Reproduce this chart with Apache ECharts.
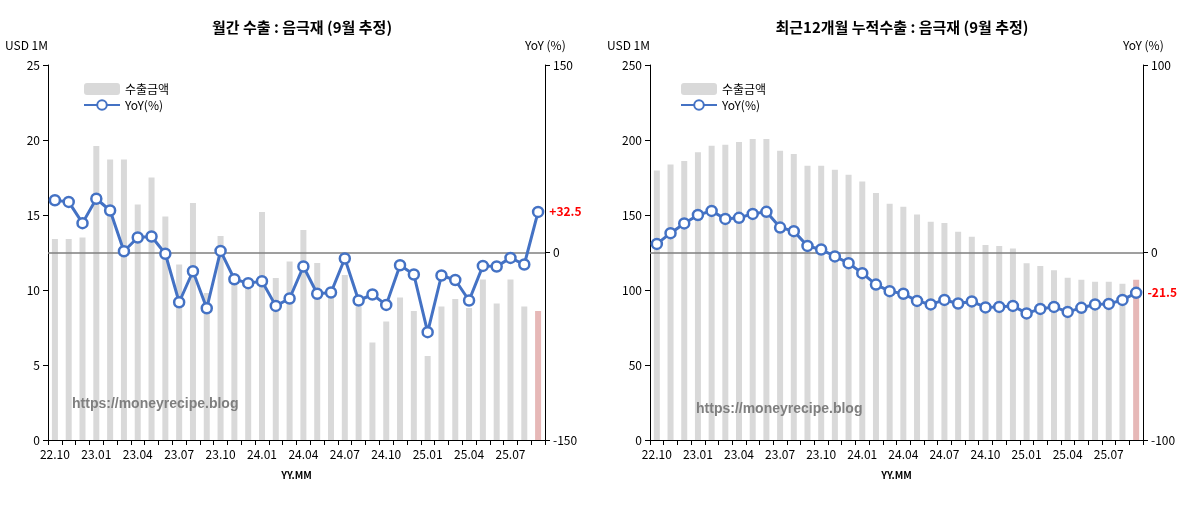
<!DOCTYPE html>
<html><head><meta charset="utf-8">
<script src="https://cdn.jsdelivr.net/npm/echarts@6/dist/echarts.min.js"></script>
<style>body{margin:0;background:#fff}#c{width:1200px;height:510px}</style></head>
<body><div id="c"></div>
<script>
const categories=['22.10','22.11','22.12','23.01','23.02','23.03','23.04','23.05','23.06','23.07','23.08','23.09','23.10','23.11','23.12','24.01','24.02','24.03','24.04','24.05','24.06','24.07','24.08','24.09','24.10','24.11','24.12','25.01','25.02','25.03','25.04','25.05','25.06','25.07','25.08','25.09'];
const monthlyExport=[13.4,13.4,13.5,19.6,18.7,18.7,15.7,17.5,14.9,11.7,15.8,9.8,13.6,10.5,10.3,15.2,10.8,11.9,14.0,11.8,9.8,11.0,8.9,6.5,7.9,9.5,8.6,5.6,8.9,9.4,8.8,10.7,9.1,10.7,8.9,8.6];
const monthlyYoY=[41.8,40.5,23.5,43,33.6,1,12,12.8,-1,-39.8,-15,-44.6,1.3,-21.4,-24.5,-23,-42.7,-36.8,-11.2,-33,-32,-4.8,-38.4,-33.6,-41.9,-10.2,-17.6,-63.7,-18.4,-22,-38.4,-10.7,-11.2,-4.3,-9.6,32.5];
const rollingExport=[179.6,183.6,186,191.8,196.2,196.9,198.7,200.7,200.7,192.9,190.7,182.9,182.9,180.2,176.9,172.4,164.7,157.5,155.5,150.4,145.5,144.7,138.9,135.5,130,129.3,127.6,117.8,116,113.1,108.2,106.9,105.5,105.5,104.2,106.9];
const rollingYoY=[4.6,10.3,15.5,20,22.2,17.9,18.5,20.6,21.7,13.3,11.4,3.5,1.6,-2.1,-5.7,-11,-17.1,-20.6,-22,-25.8,-27.7,-25.3,-27.2,-26.1,-29.3,-29,-28.5,-32.5,-30.1,-29,-31.7,-29.5,-27.7,-27.4,-25.3,-21.5];

const F='"Noto Sans CJK KR","Noto Sans",sans-serif';
const last=categories.length-1;
function bars(v){return v.map((x,i)=>i===last?{value:x,itemStyle:{color:'#e6b8b7'}}:x);}
function lineData(v,lab){return v.map((x,i)=>i===last?{value:x,label:{show:true,position:'right',formatter:lab,color:'#ff0000',fontWeight:'bold',fontSize:12,offset:[-4,-14],fontFamily:F}}:x);}
function xAx(g){return {type:'category',gridIndex:g,data:categories,boundaryGap:true,
 axisLine:{lineStyle:{color:'#000'}},axisTick:{show:true,interval:0,lineStyle:{color:'#000'}},
 axisLabel:{interval:(i)=>i%3===0,color:'#000',fontSize:12,fontFamily:F,margin:8},
 name:'YY.MM',nameLocation:'middle',nameGap:30,nameTextStyle:{fontWeight:'bold',fontSize:10,color:'#000',fontFamily:F}};}
function yAx(g,max,iv,pos,name,min){return {type:'value',gridIndex:g,min:min,max:max,interval:iv,position:pos,
 splitLine:{show:false},axisLine:{show:true,lineStyle:{color:'#000'}},axisTick:{show:true,lineStyle:{color:'#000'}},
 axisLabel:{color:'#000',fontSize:12,fontFamily:F},name:name,nameGap:14,
 nameTextStyle:{color:'#000',fontSize:12,fontFamily:F,align:pos==='left'?'right':'left',padding:pos==='left'?[0,0,0,0]:[0,0,0,-20]}};}
function barSeries(x,y,d){return {type:'bar',name:'수출금액',xAxisIndex:x,yAxisIndex:y,data:bars(d),barWidth:6,itemStyle:{color:'#d9d9d9'},z:1};}
function lineSeries(x,y,d,lab){return {type:'line',name:'YoY(%)',xAxisIndex:x,yAxisIndex:y,data:lineData(d,lab),
 symbol:'circle',symbolSize:10,showSymbol:true,showAllSymbol:true,itemStyle:{color:'#fff',borderColor:'#4472c4',borderWidth:2.5},lineStyle:{color:'#4472c4',width:3},z:3,
 labelLayout:{hideOverlap:false},
 markLine:{silent:true,symbol:'none',label:{show:false},lineStyle:{color:'#7f7f7f',type:'solid',width:1.5},data:[{yAxis:0}],z:2}};}
const chart=echarts.init(document.getElementById('c'));
chart.setOption({
 animation:false,
 title:[{text:'월간 수출 : 음극재 (9월 추정)',left:297,top:15,textAlign:'center',textStyle:{fontSize:15,fontWeight:'bold',color:'#000',fontFamily:F}},
  {text:'최근12개월 누적수출 : 음극재 (9월 추정)',left:897,top:15,textAlign:'center',textStyle:{fontSize:15,fontWeight:'bold',color:'#000',fontFamily:F}}],
 legend:[{data:['수출금액','YoY(%)'],left:78,top:78,orient:'vertical',itemGap:4,textStyle:{fontSize:12,color:'#000',fontFamily:F},itemWidth:36,itemHeight:12},
  {data:['수출금액','YoY(%)'],left:675,top:78,orient:'vertical',itemGap:4,textStyle:{fontSize:12,color:'#000',fontFamily:F},itemWidth:36,itemHeight:12}],
 graphic:[{type:'text',left:72,top:397,z:10,style:{text:'https://moneyrecipe.blog',fill:'#7f7f7f',font:'bold 14px "Liberation Sans",sans-serif'}},
  {type:'text',left:696,top:402,z:10,style:{text:'https://moneyrecipe.blog',fill:'#7f7f7f',font:'bold 14px "Liberation Sans",sans-serif'}}],
 grid:[{left:48,right:655,top:65,bottom:70},{left:650,right:57,top:65,bottom:70}],
 xAxis:[xAx(0),xAx(1)],
 yAxis:[yAx(0,25,5,'left','USD 1M',0),yAx(0,150,150,'right','YoY (%)',-150),yAx(1,250,50,'left','USD 1M',0),yAx(1,100,100,'right','YoY (%)',-100)],
 series:[barSeries(0,0,monthlyExport),lineSeries(0,1,monthlyYoY,'+32.5'),barSeries(1,2,rollingExport),lineSeries(1,3,rollingYoY,'-21.5')]
});
</script></body></html>
